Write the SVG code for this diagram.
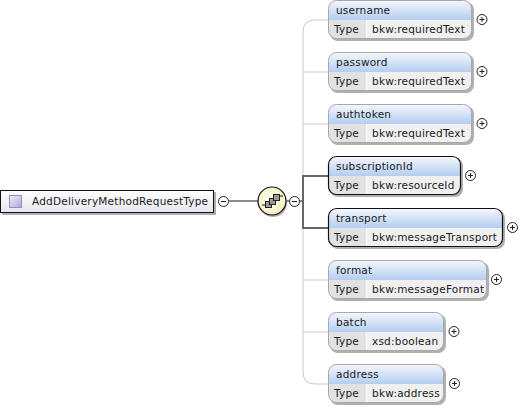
<svg xmlns="http://www.w3.org/2000/svg" width="520" height="408" viewBox="0 0 520 408">
<defs>
<linearGradient id="hd" x1="0" y1="0" x2="0" y2="1"><stop offset="0" stop-color="#f4f8fe"/><stop offset="1" stop-color="#b4cdf0"/></linearGradient>
<linearGradient id="ic" x1="0" y1="0" x2="1" y2="1"><stop offset="0" stop-color="#f2eefa"/><stop offset="1" stop-color="#b3a3d8"/></linearGradient>
<linearGradient id="rt" x1="0" y1="0" x2="0" y2="1"><stop offset="0" stop-color="#ffffff"/><stop offset="1" stop-color="#e6e6f0"/></linearGradient>
<radialGradient id="sq" cx="0.45" cy="0.45" r="0.6"><stop offset="0" stop-color="#fffff0"/><stop offset="1" stop-color="#f3eebc"/></radialGradient>
<symbol id="plus" overflow="visible"><circle cx="0" cy="0" r="5" fill="#fff" stroke="#222" stroke-width="1"/><path d="M-2.5 0H2.500M0 -2.500V2.500" stroke="#222" stroke-width="1"/></symbol>
<symbol id="minus" overflow="visible"><circle cx="0" cy="0" r="5" fill="#fff" stroke="#222" stroke-width="1"/><path d="M-2.5 0H2.500" stroke="#222" stroke-width="1"/></symbol>
</defs>
<style>
text{font-family:"DejaVu Sans",sans-serif;font-size:10.5px;letter-spacing:.22px;fill:#1a1a1a}
.sh{fill:#b0b0b0}
.bg{fill:#f0f0f0}
.cell{fill:#e2e2e2}
.o{fill:none;stroke:#a8a8a8;stroke-width:1}
.r{fill:none;stroke:#111;stroke-width:1.2}
.sep{stroke:#fff;stroke-width:1}
</style>
<rect width="520" height="408" fill="#fff"/>
<g id="connectors" fill="none">
<path d="M328 20H315Q303 20 303 32V372Q303 384 315 384H328" stroke="#c8c8c8" stroke-width="1"/>
<path d="M303 72H328M303 124H328M303 280H328M303 332H328" stroke="#c8c8c8" stroke-width="1"/>
<path d="M229 201H258M286 201H289M299 201H303" stroke="#666" stroke-width="1.6"/>
<path d="M328 176H303V228H328" stroke="#666" stroke-width="2"/>
</g>
<g id="root">
<rect x="2" y="192" width="214" height="23" class="sh"/>
<rect x="0.500" y="190.500" width="213" height="22" fill="url(#rt)" stroke="#111"/>
<rect x="9.500" y="195.500" width="12" height="12" fill="url(#ic)" stroke="#9a8cc0"/>
<text x="32" y="205">AddDeliveryMethodRequestType</text>
<use href="#minus" x="223.500" y="201.500"/>
</g>
<g id="sequence">
<circle cx="273" cy="203" r="14" class="sh"/>
<circle cx="272" cy="201" r="14" fill="url(#sq)" stroke="#111" stroke-width="1.2"/>
<path d="M262 205H266M278 196H283" stroke="#111" stroke-width="1.2"/>
<rect x="265.500" y="201.500" width="6" height="6" fill="#999" stroke="#222"/>
<rect x="269.500" y="198.500" width="6" height="6" fill="#999" stroke="#222"/>
<rect x="273.500" y="194.500" width="6" height="6" fill="#999" stroke="#222"/>
<use href="#minus" x="294.500" y="201.500"/>
</g>
<g id="username">
<rect x="330" y="2" width="144" height="39" rx="8" class="sh"/><rect x="328.500" y="0.500" width="143" height="38" rx="8" class="bg"/>
<path d="M328.500 20V8.500a8 8 0 0 1 8-8H463.500a8 8 0 0 1 8 8V20Z" fill="url(#hd)"/>
<path d="M328.500 20H366V38.500H336.500a8 8 0 0 1-8-8Z" class="cell"/><path d="M366.500 20V38.500" class="sep"/>
<rect x="328.500" y="0.500" width="143" height="38" rx="8" class="o"/>
<text x="336" y="14">username</text><text x="334" y="33">Type</text><text x="372" y="33">bkw:requiredText</text>
<use href="#plus" x="482" y="19.500"/>
</g>
<g id="password">
<rect x="330" y="54" width="144" height="39" rx="8" class="sh"/><rect x="328.500" y="52.500" width="143" height="38" rx="8" class="bg"/>
<path d="M328.500 72V60.500a8 8 0 0 1 8-8H463.500a8 8 0 0 1 8 8V72Z" fill="url(#hd)"/>
<path d="M328.500 72H366V90.500H336.500a8 8 0 0 1-8-8Z" class="cell"/><path d="M366.500 72V90.500" class="sep"/>
<rect x="328.500" y="52.500" width="143" height="38" rx="8" class="o"/>
<text x="336" y="66">password</text><text x="334" y="85">Type</text><text x="372" y="85">bkw:requiredText</text>
<use href="#plus" x="482" y="71.500"/>
</g>
<g id="authtoken">
<rect x="330" y="106" width="144" height="39" rx="8" class="sh"/><rect x="328.500" y="104.500" width="143" height="38" rx="8" class="bg"/>
<path d="M328.500 124V112.500a8 8 0 0 1 8-8H463.500a8 8 0 0 1 8 8V124Z" fill="url(#hd)"/>
<path d="M328.500 124H366V142.500H336.500a8 8 0 0 1-8-8Z" class="cell"/><path d="M366.500 124V142.500" class="sep"/>
<rect x="328.500" y="104.500" width="143" height="38" rx="8" class="o"/>
<text x="336" y="118">authtoken</text><text x="334" y="137">Type</text><text x="372" y="137">bkw:requiredText</text>
<use href="#plus" x="482" y="123.500"/>
</g>
<g id="subscriptionId">
<rect x="330" y="158" width="133" height="39" rx="8" class="sh"/><rect x="328.500" y="156.500" width="132" height="38" rx="8" class="bg"/>
<path d="M328.500 176V164.500a8 8 0 0 1 8-8H452.500a8 8 0 0 1 8 8V176Z" fill="url(#hd)"/>
<path d="M328.500 176H366V194.500H336.500a8 8 0 0 1-8-8Z" class="cell"/><path d="M366.500 176V194.500" class="sep"/>
<rect x="328.500" y="156.500" width="132" height="38" rx="8" class="r"/>
<text x="336" y="170">subscriptionId</text><text x="334" y="189">Type</text><text x="372" y="189">bkw:resourceId</text>
<use href="#plus" x="470.500" y="175.500"/>
</g>
<g id="transport">
<rect x="330" y="210" width="175" height="39" rx="8" class="sh"/><rect x="328.500" y="208.500" width="174" height="38" rx="8" class="bg"/>
<path d="M328.500 228V216.500a8 8 0 0 1 8-8H494.500a8 8 0 0 1 8 8V228Z" fill="url(#hd)"/>
<path d="M328.500 228H366V246.500H336.500a8 8 0 0 1-8-8Z" class="cell"/><path d="M366.500 228V246.500" class="sep"/>
<rect x="328.500" y="208.500" width="174" height="38" rx="8" class="r"/>
<text x="336" y="222">transport</text><text x="334" y="241">Type</text><text x="372" y="241">bkw:messageTransport</text>
<use href="#plus" x="512.500" y="227.500"/>
</g>
<g id="format">
<rect x="330" y="262" width="159" height="39" rx="8" class="sh"/><rect x="328.500" y="260.500" width="158" height="38" rx="8" class="bg"/>
<path d="M328.500 280V268.500a8 8 0 0 1 8-8H478.500a8 8 0 0 1 8 8V280Z" fill="url(#hd)"/>
<path d="M328.500 280H366V298.500H336.500a8 8 0 0 1-8-8Z" class="cell"/><path d="M366.500 280V298.500" class="sep"/>
<rect x="328.500" y="260.500" width="158" height="38" rx="8" class="o"/>
<text x="336" y="274">format</text><text x="334" y="293">Type</text><text x="372" y="293">bkw:messageFormat</text>
<use href="#plus" x="496.500" y="279.500"/>
</g>
<g id="batch">
<rect x="330" y="314" width="116" height="39" rx="8" class="sh"/><rect x="328.500" y="312.500" width="115" height="38" rx="8" class="bg"/>
<path d="M328.500 332V320.500a8 8 0 0 1 8-8H435.500a8 8 0 0 1 8 8V332Z" fill="url(#hd)"/>
<path d="M328.500 332H366V350.500H336.500a8 8 0 0 1-8-8Z" class="cell"/><path d="M366.500 332V350.500" class="sep"/>
<rect x="328.500" y="312.500" width="115" height="38" rx="8" class="o"/>
<text x="336" y="326">batch</text><text x="334" y="345">Type</text><text x="372" y="345">xsd:boolean</text>
<use href="#plus" x="454" y="331.500"/>
</g>
<g id="address">
<rect x="330" y="366" width="116" height="39" rx="8" class="sh"/><rect x="328.500" y="364.500" width="115" height="38" rx="8" class="bg"/>
<path d="M328.500 384V372.500a8 8 0 0 1 8-8H435.500a8 8 0 0 1 8 8V384Z" fill="url(#hd)"/>
<path d="M328.500 384H366V402.500H336.500a8 8 0 0 1-8-8Z" class="cell"/><path d="M366.500 384V402.500" class="sep"/>
<rect x="328.500" y="364.500" width="115" height="38" rx="8" class="o"/>
<text x="336" y="378">address</text><text x="334" y="397">Type</text><text x="372" y="397">bkw:address</text>
<use href="#plus" x="454.500" y="383.500"/>
</g>
</svg>
